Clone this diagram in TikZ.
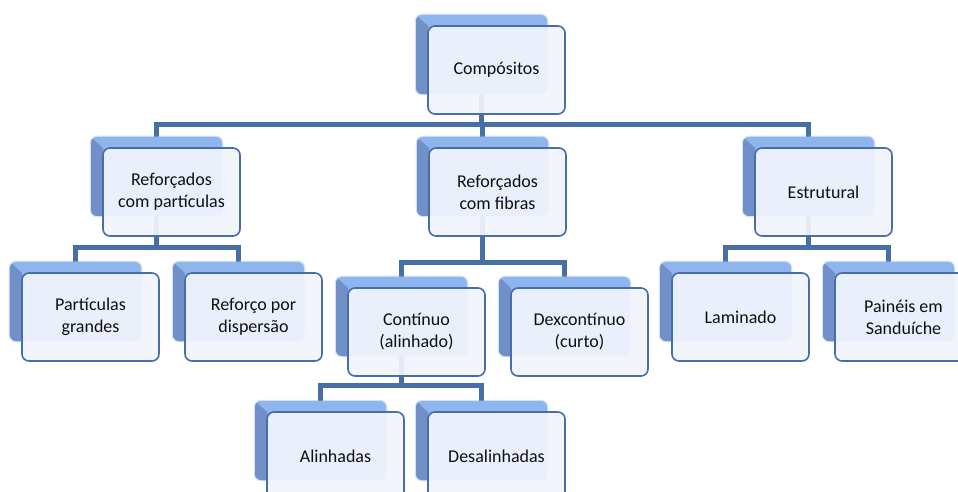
\documentclass[tikz,border=0pt]{standalone}
\usepackage{fontspec}
\setmainfont{Carlito}
\usetikzlibrary{calc}
\pgfdeclarelayer{bg}
\pgfsetlayers{bg,main}

\definecolor{connblue}{RGB}{72,110,166}
\definecolor{edgeblue}{RGB}{70,110,170}
\definecolor{cardfill}{RGB}{241,245,252}
\definecolor{backlight}{RGB}{143,181,238}
\definecolor{backdark}{RGB}{114,144,200}
\definecolor{inktext}{RGB}{15,15,15}

\tikzset{
  conn/.style={draw=connblue, line width=5bp},
  backbox/.style={rectangle, rounded corners=6bp, fill=backlight,
    minimum width=131bp, minimum height=79bp, inner sep=0pt, outer sep=0pt,
    draw=backlight, line width=2.5bp, draw opacity=0.4},
  frontbox/.style={rectangle, rounded corners=7bp, draw=edgeblue, line width=1.6bp,
    fill=cardfill, fill opacity=0.93, text opacity=1,
    minimum width=137bp, minimum height=88bp, inner sep=2bp, outer sep=0pt,
    align=center, text=inktext, font=\fontsize{18bp}{22bp}\selectfont},
}

% #1 name, #2 left edge, #3 top edge of the front card, #4 label
\newcommand\card[4]{%
  \node[backbox] (#1-b) at (#2+53.5,#3+28.5) {};
  \begin{scope}
    \clip[rounded corners=6bp] (#1-b.north west) rectangle (#1-b.south east);
    \fill[backdark] (#1-b.north west) -- ++(12,11) |- (#1-b.south west) -- cycle;
  \end{scope}
  \node[frontbox] (#1) at (#2+68.5,#3+44) {#4};
}

\begin{document}
\begin{tikzpicture}[x=1bp,y=-1bp]
  \useasboundingbox (0,0) rectangle (958,492);
  \clip (0,0) rectangle (958,492);

  % cards
  \card{comp}{428}{26}{Compósitos}
  \card{rpart}{103}{148}{Reforçados\\com partículas}
  \card{rfib}{429}{148}{Reforçados\\com fibras}
  \card{estr}{755}{148}{Estrutural}
  \card{pgr}{22}{273}{Partículas\\grandes}
  \card{rdis}{185}{273}{Reforço por\\dispersão}
  \card{cont}{348}{288}{Contínuo\\(alinhado)}
  \card{dexc}{511}{288}{Dexcontínuo\\(curto)}
  \card{lam}{672}{273}{Laminado}
  \card{pain}{835}{273}{Painéis em\\Sanduíche}
  \card{alin}{267}{412}{Alinhadas}
  \card{desal}{428}{412}{Desalinhadas}

  % connectors behind the cards
  \begin{pgfonlayer}{bg}
    \coordinate (j1) at (0,125);
    \coordinate (j2) at (0,248);
    \coordinate (j3) at (0,262.5);
    \coordinate (j4) at (0,248);
    \coordinate (j5) at (0,385);
    \foreach \c in {rpart,rfib,estr}
      \draw[conn] (comp-b.center) -- (comp-b.center |- j1) -| (\c-b.north);
    \foreach \c in {pgr,rdis}
      \draw[conn] (rpart-b.center) -- (rpart-b.center |- j2) -| (\c-b.north);
    \foreach \c in {cont,dexc}
      \draw[conn] (rfib-b.center) -- (rfib-b.center |- j3) -| (\c-b.north);
    \foreach \c in {lam,pain}
      \draw[conn] (estr-b.center) -- (estr-b.center |- j4) -| (\c-b.north);
    \foreach \c in {alin,desal}
      \draw[conn] (cont-b.center) -- (cont-b.center |- j5) -| (\c-b.north);
  \end{pgfonlayer}
\end{tikzpicture}
\end{document}
